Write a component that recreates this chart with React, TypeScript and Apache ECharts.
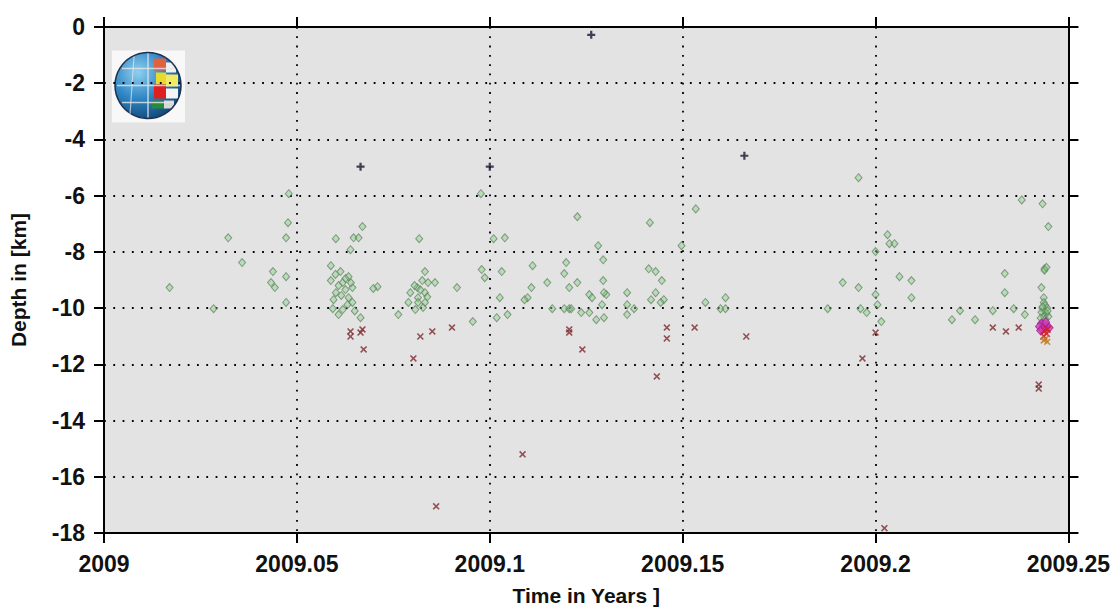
import React, { useEffect, useRef } from "react";
import * as echarts from "echarts";

// ---- data ----
const xTicks = [2009, 2009.05, 2009.1, 2009.15, 2009.2, 2009.25];
const yTicks = [0, -2, -4, -6, -8, -10, -12, -14, -16, -18];

const greenEvents: number[][] = [
  [2009.017, -9.27], [2009.0284, -10.02], [2009.0322, -7.5], [2009.0358, -8.38],
  [2009.0438, -8.7], [2009.0433, -9.09], [2009.0443, -9.27], [2009.0472, -8.88],
  [2009.0472, -9.8], [2009.0477, -6.96], [2009.0472, -7.5], [2009.0479, -5.93],
  [2009.067, -7.1], [2009.0601, -7.53], [2009.0647, -7.5], [2009.066, -7.5], [2009.0639, -7.92],
  [2009.0588, -8.49], [2009.0613, -8.7], [2009.0634, -8.88], [2009.0619, -9.09], [2009.0644, -9.27],
  [2009.0588, -9.02], [2009.0601, -9.45], [2009.0626, -9.34], [2009.0634, -9.63], [2009.0593, -10.02],
  [2009.0619, -10.05], [2009.0631, -9.88], [2009.0608, -10.23], [2009.0644, -9.8], [2009.0608, -9.2],
  [2009.0626, -8.95], [2009.064, -9.1], [2009.0595, -9.7], [2009.0615, -9.55], [2009.065, -10.1],
  [2009.06, -8.8], [2009.0709, -9.24], [2009.0698, -9.3], [2009.0665, -10.34], [2009.0763, -10.23],
  [2009.0832, -8.7], [2009.0825, -9.02], [2009.0812, -9.27], [2009.084, -9.09], [2009.0794, -9.45],
  [2009.0814, -9.63], [2009.0832, -9.45], [2009.0789, -9.8], [2009.0814, -9.8], [2009.0832, -9.8],
  [2009.0807, -10.05], [2009.0827, -9.98], [2009.082, -9.35], [2009.0805, -9.2], [2009.0838, -9.6],
  [2009.0858, -9.09], [2009.0915, -9.27], [2009.0956, -10.48], [2009.0977, -5.93], [2009.0817, -7.53],
  [2009.101, -7.53], [2009.1039, -7.5], [2009.0979, -8.63], [2009.0987, -8.92], [2009.1031, -8.7],
  [2009.1026, -9.63], [2009.1018, -10.34], [2009.1046, -10.23], [2009.1111, -8.49], [2009.1108, -9.27],
  [2009.1098, -9.63], [2009.1149, -9.09], [2009.1162, -10.02], [2009.1193, -10.02], [2009.1206, -10.02],
  [2009.1198, -8.38], [2009.1193, -8.77], [2009.1206, -9.27], [2009.1227, -9.09], [2009.1227, -6.75],
  [2009.1237, -10.16], [2009.109, -9.7], [2009.1415, -6.96], [2009.1534, -6.47], [2009.1281, -7.78],
  [2009.1294, -8.28], [2009.1294, -9.02], [2009.1258, -9.52], [2009.1265, -9.63], [2009.1302, -9.52],
  [2009.1296, -9.45], [2009.1356, -9.45], [2009.1356, -9.88], [2009.1374, -10.02], [2009.1418, -9.7],
  [2009.1412, -8.6], [2009.143, -8.7], [2009.1446, -9.02], [2009.143, -9.45], [2009.1451, -9.7],
  [2009.1443, -9.8], [2009.1559, -9.8], [2009.1211, -10.02], [2009.1258, -10.16], [2009.1276, -10.41],
  [2009.1296, -10.34], [2009.1291, -9.88], [2009.1356, -10.23], [2009.1497, -7.78],
  [2009.1956, -5.36], [2009.2031, -7.39], [2009.2036, -7.71], [2009.2049, -7.71], [2009.2, -7.99],
  [2009.1915, -9.09], [2009.1956, -9.27], [2009.2, -9.52], [2009.2062, -8.88], [2009.2093, -9.02],
  [2009.2093, -9.63], [2009.1611, -9.63], [2009.1598, -10.02], [2009.1611, -10.02], [2009.1876, -10.02],
  [2009.1961, -10.02], [2009.1977, -10.16], [2009.2015, -10.48], [2009.2005, -9.88],
  [2009.2379, -6.15], [2009.2433, -6.29], [2009.2448, -7.1], [2009.2335, -8.77], [2009.2335, -9.45],
  [2009.2438, -8.6], [2009.243, -9.27], [2009.2436, -9.63], [2009.2219, -10.09], [2009.2198, -10.41],
  [2009.2258, -10.41], [2009.2304, -10.09], [2009.2358, -10.02], [2009.2387, -10.23],
  [2009.2436, -9.8], [2009.244, -9.9], [2009.2432, -10.0], [2009.2445, -10.0], [2009.2438, -10.1],
  [2009.243, -10.15], [2009.2443, -10.2], [2009.2436, -10.3], [2009.2448, -10.3], [2009.2428, -10.35],
  [2009.244, -10.4], [2009.2433, -9.95], [2009.2446, -10.1], [2009.2438, -8.65], [2009.2443, -8.55],
];

const redEvents: number[][] = [
  [2009.0639, -10.83], [2009.0639, -11.01], [2009.067, -10.76], [2009.0665, -10.87], [2009.0673, -11.47],
  [2009.082, -11.01], [2009.0851, -10.83], [2009.0902, -10.69], [2009.0802, -11.79], [2009.0861, -17.05],
  [2009.1206, -10.76], [2009.1206, -10.87], [2009.124, -11.47], [2009.1459, -10.69], [2009.1459, -11.08],
  [2009.1531, -10.69], [2009.1433, -12.43], [2009.1085, -15.2], [2009.1665, -11.01], [2009.2, -10.87],
  [2009.1966, -11.79], [2009.2023, -17.83], [2009.2304, -10.69], [2009.2338, -10.83], [2009.2371, -10.69],
  [2009.2423, -12.72], [2009.2423, -12.86],
];

const shallowEvents: number[][] = [
  [2009.0665, -4.97], [2009.1, -4.97], [2009.1263, -0.28], [2009.166, -4.58],
];

const recentEvents: number[][] = [
  [2009.243, -10.55], [2009.2438, -10.6], [2009.2445, -10.65], [2009.2425, -10.65],
  [2009.245, -10.7], [2009.2433, -10.75], [2009.2441, -10.5], [2009.2428, -10.8],
];

const latestRed: number[][] = [
  [2009.2438, -10.8], [2009.2443, -10.9], [2009.2436, -11.0], [2009.2445, -10.75],
];

const latestOrange: number[][] = [
  [2009.244, -11.1], [2009.2445, -11.2], [2009.2436, -11.15],
];

const X_SYMBOL = "path://M0,1.6L1.6,0L5,3.4L8.4,0L10,1.6L6.6,5L10,8.4L8.4,10L5,6.6L1.6,10L0,8.4L3.4,5Z";
const PLUS_SYMBOL = "path://M3.6,0L6.4,0L6.4,3.6L10,3.6L10,6.4L6.4,6.4L6.4,10L3.6,10L3.6,6.4L0,6.4L0,3.6L3.6,3.6Z";

const FONT = "'Liberation Sans', Arial, sans-serif";

export default function App() {
  const ref = useRef<HTMLDivElement>(null);

  useEffect(() => {
    if (!ref.current) return;
    const chart = echarts.init(ref.current, null, { renderer: "svg" });

    const fmtX = (v: number) => String(Math.round(v * 100) / 100);
    const labelStyle = { fontFamily: FONT, fontWeight: "bold" as const, fontSize: 23, color: "#111" };

    const gridLine = { show: true, lineStyle: { color: "#000", width: 1.8, type: [1.8, 7.5] as any } };

    const option: any = {
      animation: false,
      backgroundColor: "#ffffff",
      grid: {
        left: 97, right: 43, top: 27, bottom: 81,
        show: true, backgroundColor: "#e3e3e3", borderColor: "#000", borderWidth: 0,
      },
      xAxis: [
        {
          type: "value", min: 2009, max: 2009.25, interval: 0.05, position: "bottom",
          name: "Time in Years ]", nameLocation: "middle", nameGap: 52,
          nameTextStyle: { fontFamily: FONT, fontWeight: "bold", fontSize: 21, color: "#111" },
          axisLine: { show: true, onZero: false, lineStyle: { color: "#000", width: 2 } },
          axisTick: { show: true, length: 10, lineStyle: { color: "#000", width: 2 } },
          axisLabel: { ...labelStyle, margin: 19, formatter: fmtX },
          splitLine: gridLine,
        },
        {
          type: "value", min: 2009, max: 2009.25, interval: 0.05, position: "top",
          axisLine: { show: true, onZero: false, lineStyle: { color: "#000", width: 2 } },
          axisTick: { show: true, length: 10, lineStyle: { color: "#000", width: 2 } },
          axisLabel: { show: false },
          splitLine: { show: false },
        },
      ],
      yAxis: [
        {
          type: "value", min: -18, max: 0, interval: 2, position: "left",
          name: "Depth in [km]", nameLocation: "middle", nameGap: 75, nameRotate: 90,
          nameTextStyle: { fontFamily: FONT, fontWeight: "bold", fontSize: 21, color: "#111" },
          axisLine: { show: true, onZero: false, lineStyle: { color: "#000", width: 2 } },
          axisTick: { show: true, length: 10, lineStyle: { color: "#000", width: 2 } },
          axisLabel: { ...labelStyle, margin: 19 },
          splitLine: gridLine,
        },
        {
          type: "value", min: -18, max: 0, interval: 2, position: "right",
          axisLine: { show: true, onZero: false, lineStyle: { color: "#000", width: 2 } },
          axisTick: { show: true, length: 10, lineStyle: { color: "#000", width: 2 } },
          axisLabel: { show: false },
          splitLine: { show: false },
        },
      ],
      series: [
        {
          type: "scatter", data: greenEvents, symbol: "diamond", symbolSize: [7, 8],
          itemStyle: { color: "rgba(130,210,130,0.55)", borderColor: "rgba(95,125,95,0.9)", borderWidth: 1 },
        },
        {
          type: "scatter", data: redEvents, symbol: X_SYMBOL, symbolSize: 7,
          itemStyle: { color: "#7d2a2e" },
        },
        {
          type: "scatter", data: recentEvents, symbol: "diamond", symbolSize: [8, 9],
          itemStyle: { color: "#d33cc0", borderColor: "#a02090", borderWidth: 1 },
        },
        {
          type: "scatter", data: latestRed, symbol: X_SYMBOL, symbolSize: 8,
          itemStyle: { color: "#d0202a" },
        },
        {
          type: "scatter", data: latestOrange, symbol: X_SYMBOL, symbolSize: 7,
          itemStyle: { color: "#c07a20" },
        },
        {
          type: "scatter", data: shallowEvents, symbol: PLUS_SYMBOL, symbolSize: 8,
          itemStyle: { color: "#15152e" },
        },
      ],
      graphic: [
        {
          type: "group", left: 112, top: 50, z: 100,
          children: [
            { type: "rect", shape: { x: 0, y: 0, width: 73, height: 72 }, style: { fill: "#f8f8f8" } },
            {
              type: "circle", shape: { cx: 36, cy: 35, r: 33 },
              style: {
                fill: new echarts.graphic.RadialGradient(0.35, 0.3, 0.8, [
                  { offset: 0, color: "#8fd0f0" },
                  { offset: 0.5, color: "#2f86c4" },
                  { offset: 1, color: "#0d3f6e" },
                ]),
              },
            },
            { type: "rect", shape: { x: 42, y: 8, width: 12, height: 12 }, style: { fill: "#e06040" } },
            { type: "rect", shape: { x: 54, y: 12, width: 10, height: 10 }, style: { fill: "#f0f0f0" } },
            { type: "rect", shape: { x: 44, y: 22, width: 10, height: 12 }, style: { fill: "#e8d830" } },
            { type: "rect", shape: { x: 54, y: 24, width: 12, height: 12 }, style: { fill: "#f2ea60" } },
            { type: "rect", shape: { x: 42, y: 34, width: 12, height: 14 }, style: { fill: "#e02020" } },
            { type: "rect", shape: { x: 54, y: 38, width: 12, height: 10 }, style: { fill: "#f4f4f4" } },
            { type: "rect", shape: { x: 40, y: 50, width: 14, height: 8 }, style: { fill: "#2a8a3a" } },
            { type: "rect", shape: { x: 52, y: 50, width: 10, height: 8 }, style: { fill: "#d8d8d8" } },
            { type: "arc", shape: { cx: 36, cy: 35, r: 33, startAngle: 0, endAngle: Math.PI * 2 }, style: { stroke: "#1f3050", lineWidth: 1.5, fill: "none" } },
            { type: "line", shape: { x1: 5, y1: 35, x2: 68, y2: 35 }, style: { stroke: "rgba(230,230,230,0.8)", lineWidth: 1.5 } },
            { type: "line", shape: { x1: 10, y1: 18, x2: 62, y2: 18 }, style: { stroke: "rgba(230,230,230,0.8)", lineWidth: 1.5 } },
            { type: "line", shape: { x1: 10, y1: 52, x2: 62, y2: 52 }, style: { stroke: "rgba(230,230,230,0.8)", lineWidth: 1.5 } },
            { type: "line", shape: { x1: 36, y1: 3, x2: 36, y2: 67 }, style: { stroke: "rgba(230,230,230,0.8)", lineWidth: 1.5 } },
            { type: "line", shape: { x1: 22, y1: 6, x2: 18, y2: 64 }, style: { stroke: "rgba(230,230,230,0.7)", lineWidth: 1.2 } },
          ],
        },
      ],
    };

    chart.setOption(option);
    return () => chart.dispose();
  }, []);

  return (
    <div
      ref={ref}
      style={{ position: "absolute", left: 0, top: 0, width: 1113, height: 614 }}
    />
  );
}
